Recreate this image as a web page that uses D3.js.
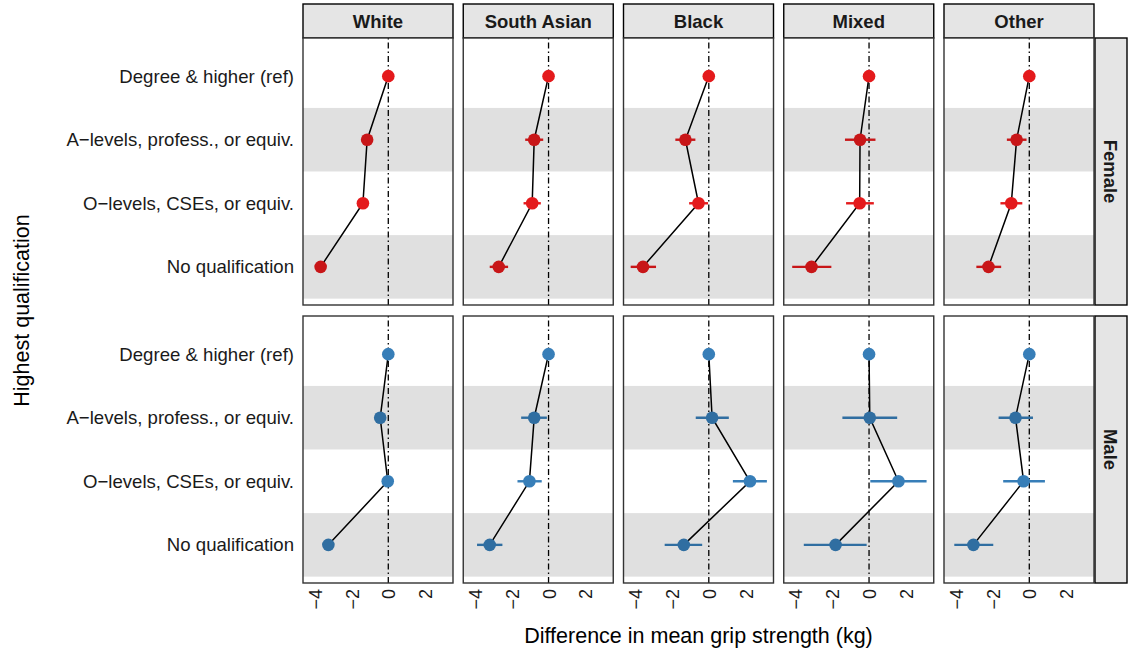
<!DOCTYPE html>
<html><head><meta charset="utf-8">
<script src="https://cdn.jsdelivr.net/npm/d3@7"></script>
<style>body{margin:0;background:#fff}svg{display:block;font-family:"Liberation Sans",Arial,sans-serif}</style>
</head><body><svg id="c" width="1128" height="654"></svg>
<script>
const categories = ["Degree & higher (ref)", "A\u2212levels, profess., or equiv.", "O\u2212levels, CSEs, or equiv.", "No qualification"];
const ethnicities = ["White", "South Asian", "Black", "Mixed", "Other"];
const sexes = ["Female", "Male"];
const xTicks = [-4, -2, 0, 2];

// Female estimates / lower / upper per ethnicity
const femaleEst = {White:[0,-1.15,-1.38,-3.68], "South Asian":[0,-0.78,-0.89,-2.71], Black:[0,-1.27,-0.56,-3.58], Mixed:[0,-0.49,-0.51,-3.13], Other:[0,-0.69,-0.98,-2.22]};
const femaleLo  = {White:[0,-1.30,-1.53,-3.85], "South Asian":[0,-1.27,-1.36,-3.20], Black:[0,-1.82,-1.07,-4.25], Mixed:[0,-1.31,-1.25,-4.18], Other:[0,-1.22,-1.57,-2.88]};
const femaleHi  = {White:[0,-1.00,-1.23,-3.51], "South Asian":[0,-0.29,-0.42,-2.20], Black:[0,-0.73,-0.04,-2.87], Mixed:[0,0.35,0.26,-2.05], Other:[0,-0.15,-0.38,-1.53]};
// Male
const maleEst = {White:[0,-0.44,-0.03,-3.26], "South Asian":[0,-0.78,-1.04,-3.20], Black:[0,0.18,2.24,-1.36], Mixed:[0,0.04,1.60,-1.82], Other:[0,-0.75,-0.31,-3.04]};
const maleLo  = {White:[0,-0.60,-0.20,-3.45], "South Asian":[0,-1.49,-1.69,-3.89], Black:[0,-0.71,1.31,-2.40], Mixed:[0,-1.45,0.07,-3.55], Other:[0,-1.67,-1.42,-4.08]};
const maleHi  = {White:[0,-0.28,0.14,-3.07], "South Asian":[0,-0.09,-0.37,-2.51], Black:[0,1.09,3.16,-0.36], Mixed:[0,1.53,3.13,-0.13], Other:[0,0.20,0.85,-1.96]};

const est = {Female: femaleEst, Male: maleEst};
const lo = {Female: femaleLo, Male: maleLo};
const hi = {Female: femaleHi, Male: maleHi};
const colors = {Female: "#E41A1C", Male: "#377EB8"};

const svg = d3.select("#c");
const panelW = 150, colStep = 160.25, left0 = 303;
const rowTops = [38, 316], panelH = 267;
const x = d3.scaleLinear().domain([-4.64, 3.52]).range([0, panelW]);
const ink = "#1a1a1a";
const FF = "Liberation Sans, Arial, sans-serif";

// column strips
ethnicities.forEach((eth, ci) => {
  const gx = left0 + ci * colStep;
  svg.append("rect").attr("x", gx).attr("y", 4).attr("width", panelW).attr("height", 34)
    .attr("fill", "#E5E5E5").attr("stroke", "#000").attr("stroke-width", 1.4);
  svg.append("text").attr("x", gx + panelW / 2).attr("y", 21).attr("dy", "0.36em")
    .attr("text-anchor", "middle").attr("font-weight", "bold").attr("font-size", 18.5).attr("fill", ink).text(eth);
});

sexes.forEach((sex, ri) => {
  const top = rowTops[ri];
  const y = d3.scalePoint().domain(categories).range([top, top + panelH]).padding(0.6);
  const step = y.step();
  // row strip
  svg.append("rect").attr("x", 1095).attr("y", top).attr("width", 32).attr("height", panelH)
    .attr("fill", "#E5E5E5").attr("stroke", "#000").attr("stroke-width", 1.4);
  svg.append("text").attr("transform", `translate(${1111},${top + panelH / 2}) rotate(90)`)
    .attr("text-anchor", "middle").attr("dy", "0.36em").attr("font-weight", "bold").attr("font-size", 18.5)
    .attr("fill", ink).text(sex);

  // y axis labels
  const ya = d3.axisLeft(y).tickSize(0).tickPadding(9);
  const yg = svg.append("g").attr("transform", `translate(${left0},0)`).call(ya);
  yg.select(".domain").remove();
  yg.selectAll("text").attr("font-size", 18.6).attr("fill", ink).attr("font-family", FF);

  ethnicities.forEach((eth, ci) => {
    const gx = left0 + ci * colStep;
    const g = svg.append("g").attr("transform", `translate(${gx},0)`);
    g.append("rect").attr("x", 0).attr("y", top).attr("width", panelW).attr("height", panelH).attr("fill", "#fff");
    // zero reference line
    g.append("line").attr("x1", x(0)).attr("x2", x(0)).attr("y1", top).attr("y2", top + panelH)
      .attr("stroke", "#000").attr("stroke-width", 1.3).attr("stroke-dasharray", "1.5,3,6,3");
    const pts = categories.map((c, i) => ({c, v: est[sex][eth][i], l: lo[sex][eth][i], h: hi[sex][eth][i]}));
    g.append("path").datum(pts)
      .attr("d", d3.line().x(d => x(d.v)).y(d => y(d.c)))
      .attr("fill", "none").attr("stroke", "#000").attr("stroke-width", 1.5);
    g.selectAll(".eb").data(pts).join("line")
      .attr("x1", d => x(d.l)).attr("x2", d => x(d.h)).attr("y1", d => y(d.c)).attr("y2", d => y(d.c))
      .attr("stroke", colors[sex]).attr("stroke-width", 2.4);
    g.selectAll(".pt").data(pts).join("circle")
      .attr("cx", d => x(d.v)).attr("cy", d => y(d.c)).attr("r", 6.3).attr("fill", colors[sex]);
    // shaded bands (drawn over, translucent)
    g.selectAll(".band").data(categories.filter((c, i) => i % 2 === 1)).join("rect")
      .attr("x", 0).attr("width", panelW)
      .attr("y", c => y(c) - step / 2).attr("height", step)
      .attr("fill", "#000").attr("fill-opacity", 0.12);
    // border
    g.append("rect").attr("x", 0).attr("y", top).attr("width", panelW).attr("height", panelH)
      .attr("fill", "none").attr("stroke", "#333").attr("stroke-width", 1.4);
    if (ri === 1) {
      const xa = d3.axisBottom(x).tickValues(xTicks).tickSize(0).tickPadding(0)
        .tickFormat(d => d < 0 ? "\u2212" + Math.abs(d) : String(d));
      const xg = g.append("g").attr("transform", `translate(0,${top + panelH})`).call(xa);
      xg.select(".domain").remove();
      xg.selectAll("text").attr("transform", "translate(0,6) rotate(-90)")
        .attr("text-anchor", "end").attr("dy", "0.36em").attr("y", 0).attr("x", 0)
        .attr("font-size", 18).attr("fill", ink).attr("font-family", FF);
    }
  });
});

svg.append("text").attr("x", left0 + (4 * colStep + panelW) / 2).attr("y", 643)
  .attr("text-anchor", "middle").attr("font-size", 21.5).attr("fill", "#000").text("Difference in mean grip strength (kg)");
svg.append("text").attr("transform", `translate(29,${(rowTops[0] + rowTops[1] + panelH) / 2}) rotate(-90)`)
  .attr("text-anchor", "middle").attr("font-size", 21.5).attr("fill", "#000").text("Highest qualification");
</script></body></html>
